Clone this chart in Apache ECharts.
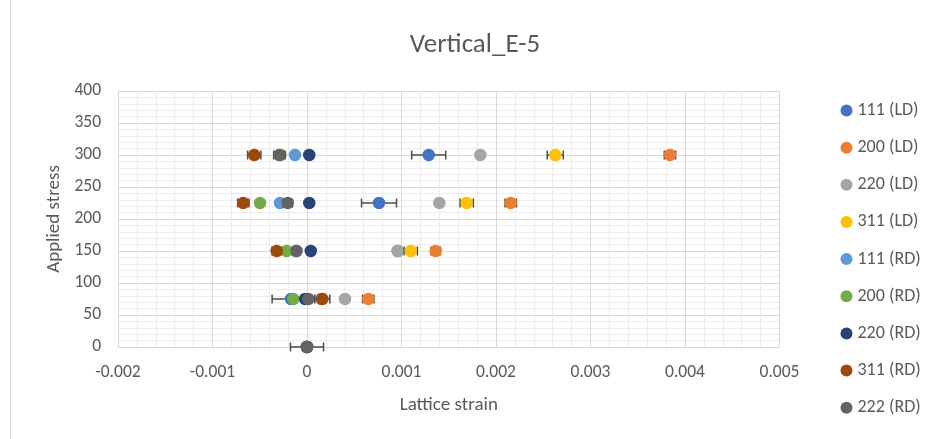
<!DOCTYPE html>
<html>
<head>
<meta charset="utf-8">
<script src="https://cdn.jsdelivr.net/npm/echarts@6/dist/echarts.min.js"></script>
<style>html,body{margin:0;padding:0;background:#fff;}#c{width:930px;height:439px;}</style>
</head>
<body>
<div id="c"></div>
<script>
// ---- data ----
const stress = [0, 75, 150, 225, 300];
const seriesNames = ['111 (LD)', '200 (LD)', '220 (LD)', '311 (LD)', '111 (RD)', '200 (RD)', '220 (RD)', '311 (RD)', '222 (RD)'];
const strain111LD = [0, -0.000169, 0.00096, 0.000762, 0.001288];
const strain200LD = [0, 0.000648, 0.001362, 0.002156, 0.003841];
const strain220LD = [0, 0.000402, 0.000961, 0.0014, 0.001834];
const strain311LD = [0, 0.00016, 0.001098, 0.00169, 0.002627];
const strain111RD = [0, 0.00015, -0.00012, -0.000286, -0.000127];
const strain200RD = [0, -0.000145, -0.000215, -0.000497, -0.00028];
const strain220RD = [0, -0.00002, 0.00004, 0.000024, 0.000024];
const strain311RD = [0, 0.000162, -0.000321, -0.000674, -0.000558];
const strain222RD = [0, 0.000014, -0.00011, -0.000204, -0.000293];
const err111LD = [0.000175, 0.0002, 0, 0.000185, 0.00018];
const err200LD = [0, 0.00006, 0.00005, 0.00006, 0.00006];
const err220LD = [0, 0, 0, 0, 0];
const err311LD = [0, 0, 0.00007, 0.00007, 0.000085];
const err111RD = [0, 0, 0, 0, 0];
const err200RD = [0, 0, 0, 0, 0];
const err220RD = [0, 0, 0, 0, 0];
const err311RD = [0, 0.00008, 0.00005, 0.00006, 0.00007];
const err222RD = [0, 0, 0, 0.00005, 0.00006];
const colors = ['#4472C4', '#ED7D31', '#A5A5A5', '#FFC000', '#5B9BD5', '#70AD47', '#264478', '#9E480E', '#636363'];
const xTickLabels = ['-0.002', '-0.001', '0', '0.001', '0.002', '0.003', '0.004', '0.005'];

const strains = [strain111LD, strain200LD, strain220LD, strain311LD, strain111RD, strain200RD, strain220RD, strain311RD, strain222RD];
const errs = [err111LD, err200LD, err220LD, err311LD, err111RD, err200RD, err220RD, err311RD, err222RD];

const FONT = 'Carlito, Lato, sans-serif';
const TXT = '#595959';

const series = [];
strains.forEach((arr, i) => {
  const errData = [];
  arr.forEach((x, j) => { if (errs[i][j] > 0) errData.push([x, stress[j], errs[i][j]]); });
  series.push({
    type: 'custom',
    name: seriesNames[i] + ' err',
    silent: true,
    legendHoverLink: false,
    encode: { x: 0, y: 1 },
    data: errData,
    z: 2 + i * 2,
    renderItem: function (params, api) {
      const x = api.value(0), y = api.value(1), e = api.value(2);
      const p1 = api.coord([x - e, y]);
      const p2 = api.coord([x + e, y]);
      const h = 4.5;
      const st = { stroke: '#4d4d4d', lineWidth: 1.5 };
      return {
        type: 'group',
        children: [
          { type: 'line', shape: { x1: p1[0], y1: p1[1], x2: p2[0], y2: p2[1] }, style: st },
          { type: 'line', shape: { x1: p1[0], y1: p1[1] - h, x2: p1[0], y2: p1[1] + h }, style: st },
          { type: 'line', shape: { x1: p2[0], y1: p2[1] - h, x2: p2[0], y2: p2[1] + h }, style: st }
        ]
      };
    }
  });
  series.push({
    type: 'scatter',
    name: seriesNames[i],
    symbol: 'circle',
    symbolSize: 12.5,
    itemStyle: { color: colors[i], opacity: 1 },
    z: 3 + i * 2,
    data: arr.map((x, j) => [x, stress[j]])
  });
});

const chart = echarts.init(document.getElementById('c'), null, { renderer: 'canvas' });
chart.setOption({
  animation: false,
  backgroundColor: '#ffffff',
  color: colors,
  grid: { left: 118, right: 150.5, top: 91, bottom: 92, containLabel: false },
  legend: {
    orient: 'vertical',
    left: 835.5,
    top: 96.5,
    icon: 'circle',
    itemWidth: 12,
    itemHeight: 12,
    itemGap: 19.15,
    data: seriesNames,
    textStyle: { fontFamily: FONT, fontSize: 18, color: TXT, lineHeight: 17 },
    selectedMode: false
  },
  xAxis: {
    type: 'value',
    min: -0.002,
    max: 0.005,
    interval: 0.001,
    name: 'Lattice strain',
    nameLocation: 'middle',
    nameGap: 49,
    nameTextStyle: { fontFamily: FONT, fontSize: 19, color: TXT },
    axisLine: { show: false },
    axisTick: { show: false },
    axisLabel: {
      margin: 17, fontFamily: FONT, fontSize: 17.5, color: TXT,
      formatter: function (v) { const k = Math.round(v * 1000) + 2; return xTickLabels[k]; }
    },
    splitLine: { show: true, lineStyle: { color: '#d9d9d9', width: 1 } },
    minorTick: { show: false, splitNumber: 5 },
    minorSplitLine: { show: true, lineStyle: { color: '#ececec', width: 1 } }
  },
  yAxis: {
    type: 'value',
    min: 0,
    max: 400,
    interval: 50,
    name: 'Applied stress',
    nameLocation: 'middle',
    nameGap: 53,
    nameTextStyle: { fontFamily: FONT, fontSize: 19, color: TXT },
    axisLine: { show: false },
    axisTick: { show: false },
    axisLabel: { margin: 17, fontFamily: FONT, fontSize: 17.5, color: TXT },
    splitLine: { show: true, lineStyle: { color: '#d9d9d9', width: 1 } },
    minorTick: { show: false, splitNumber: 5 },
    minorSplitLine: { show: true, lineStyle: { color: '#ececec', width: 1 } }
  },
  graphic: [
    { type: 'text', x: 475, y: 45, style: { text: 'Vertical_E-5', fontFamily: FONT, fontSize: 27, fill: TXT, align: 'center', verticalAlign: 'middle' } },
    { type: 'line', shape: { x1: 10.5, y1: 0, x2: 10.5, y2: 439 }, style: { stroke: '#d9d9d9', lineWidth: 1 } }
  ],
  series: series
});
</script>
</body>
</html>
